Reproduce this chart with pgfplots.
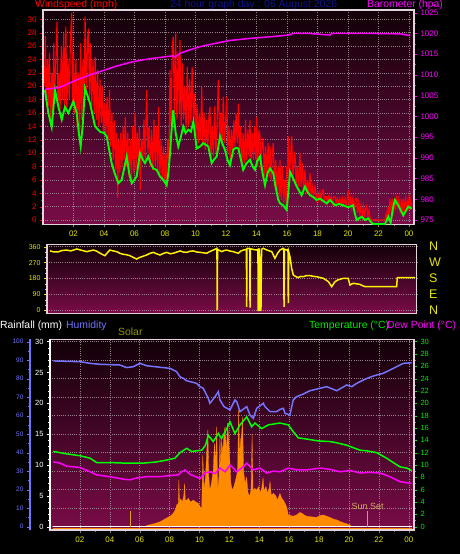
\documentclass[border=0pt]{standalone}
\usepackage{pgfplots}
\pgfplotsset{compat=1.18}
\usepackage{fontspec}
\setmainfont{Liberation Sans}
\definecolor{bgtop}{RGB}{18,0,8}
\definecolor{bgbot}{RGB}{122,12,72}
\definecolor{gridc}{RGB}{150,128,140}
\definecolor{ylab}{RGB}{228,228,0}
\definecolor{humblue}{RGB}{116,116,255}
\definecolor{solarc}{RGB}{255,140,0}
\definecolor{suncol}{RGB}{212,172,100}
\definecolor{sunline}{RGB}{225,160,30}
\definecolor{titleblue}{RGB}{18,18,145}
\definecolor{framec}{RGB}{228,210,220}
\definecolor{solarlab}{RGB}{150,150,0}
\definecolor{tempgreen}{RGB}{0,235,0}
\definecolor{mag}{RGB}{255,0,255}
\begin{document}
\begin{tikzpicture}
\fill[black] (0pt,0pt) rectangle (460pt,554pt);
\pgfplotsset{
  every axis/.append style={scale only axis, anchor=south west,
    /pgf/number format/assume math mode=true,
    tick align=outside, major tick length=3pt, minor tick length=1.8pt,
    tick label style={font=\fontsize{8}{9}\selectfont},
    grid style={gridc, dash pattern=on 0.8pt off 1.4pt, line width=0.5pt}},
}
% ================= TOP PANEL: wind speed =================
\begin{axis}[
  at={(43pt,329.5pt)}, width=371pt, height=214.5pt,
  xmin=0, xmax=24.33, ymin=-0.67, ymax=31.39,
  axis background/.style={shade, top color=bgtop, bottom color=bgbot},
  axis line style={framec, line width=1.2pt},
  xtick={2,4,...,24}, xticklabels={02,04,06,08,10,12,14,16,18,20,22,00},
  minor x tick num=1,
  ytick={0,2,...,30}, minor y tick num=1,
  grid=major,
  xtick pos=left, ytick pos=left,
  xticklabel style={ylab}, yticklabel style={red},
  x tick style={gray}, y tick style={red},
]
\addplot[red, line width=1.15pt] coordinates {
(0.10,20)(0.15,27.5)(0.22,18)(0.30,24)(0.36,17)(0.42,25)(0.50,15)(0.58,22)(0.64,14.5)(0.70,26.4)
(0.76,18)(0.84,24)(0.92,29.6)(0.98,17)(1.05,22)(1.12,16.5)(1.20,26)(1.28,18)(1.36,27.9)(1.42,17)
(1.50,28.9)(1.56,16.5)(1.64,24)(1.72,18)(1.80,27)(1.88,31)(1.94,17)(2.00,25)(2.08,16)(2.16,24)
(2.24,14)(2.32,22)(2.40,12.5)(2.46,26.4)(2.54,15)(2.62,24)(2.70,19)(2.76,30.4)(2.84,19)(2.92,27)
(2.98,28.6)(3.05,18)(3.12,26.4)(3.20,17)(3.28,24)(3.36,16)(3.42,24.4)(3.50,15)(3.58,22.4)(3.66,14)
(3.74,21)(3.82,14.5)(3.88,19.9)(3.96,13)(4.04,17.5)(4.12,12.5)(4.20,18.4)(4.28,12)(4.36,19.4)(4.44,11)
(4.52,16)(4.60,9)(4.68,14.9)(4.76,7.5)(4.84,13)(4.90,3.3)(4.96,12)(5.04,7)(5.10,13)(5.18,8)
(5.26,14)(5.32,9)(5.40,15.4)(5.48,8)(5.56,13)(5.64,6.5)(5.72,12)(5.80,6)(5.88,14)(5.96,7)
(6.04,16)(6.10,7.5)(6.18,13)(6.26,8)(6.32,14)(6.38,4.5)(6.46,12)(6.54,9)(6.62,15)(6.70,9)
(6.80,19.4)(6.88,10)(6.96,14)(7.04,8)(7.12,13.5)(7.20,7.5)(7.28,15)(7.36,8)(7.44,14)(7.52,7)
(7.58,16.9)(7.66,6.5)(7.74,12)(7.82,6)(7.90,11)(7.96,5.5)(8.04,10)(8.10,6)(8.18,12)(8.26,9)
(8.33,22.4)(8.40,14)(8.48,26)(8.54,27.4)(8.62,16)(8.70,27.9)(8.78,15)(8.86,24.9)(8.94,16)(8.98,26.9)
(9.06,14)(9.14,23.4)(9.22,15)(9.30,20)(9.38,13.5)(9.46,22.9)(9.54,14)(9.62,21)(9.70,14.5)(9.78,22.9)
(9.86,15)(9.94,18.9)(10.02,12)(10.10,17.4)(10.18,11.5)(10.26,16)(10.34,12)(10.41,19.9)(10.48,11)(10.56,16)
(10.64,10.5)(10.72,15)(10.80,11)(10.88,15.5)(10.95,16.9)(11.02,9)(11.10,14)(11.18,9.5)(11.26,17)(11.34,10)
(11.42,15)(11.50,20.9)(11.58,12)(11.66,16)(11.74,11)(11.82,18.4)(11.90,11.5)(11.98,15)(12.05,18.4)(12.12,10)
(12.20,14)(12.28,9)(12.36,13.5)(12.44,10)(12.52,14.9)(12.59,11)(12.66,16)(12.74,11.5)(12.81,17.4)(12.88,10)
(12.96,14)(13.04,8)(13.12,13)(13.20,8.5)(13.28,15)(13.36,9)(13.44,13.5)(13.52,9.5)(13.57,14.9)(13.64,8.5)
(13.72,13)(13.80,9)(13.88,14)(13.96,9)(14.01,15.4)(14.08,8)(14.16,13.5)(14.23,12.5)(14.30,7.5)(14.38,12)
(14.45,11.5)(14.52,6.5)(14.60,11)(14.68,7)(14.76,11.5)(14.84,6.5)(14.89,11)(14.96,6)(15.04,10)(15.10,11.5)
(15.18,5)(15.26,9)(15.34,4.5)(15.42,8)(15.50,3.5)(15.54,9)(15.62,3)(15.70,8)(15.78,2.5)(15.86,6)
(15.94,2)(15.98,8)(16.04,7)(16.09,12.5)(16.16,6)(16.24,10)(16.31,12.5)(16.38,6)(16.46,9)(16.52,10.2)
(16.60,5.5)(16.68,8)(16.76,5)(16.85,10)(16.92,5)(17.00,8.5)(17.08,4.5)(17.18,7.5)(17.26,4)(17.34,6)
(17.42,4)(17.51,7)(17.58,3.5)(17.66,5)(17.74,3.5)(17.84,5)(17.92,3)(18.00,4)(18.08,3)(18.16,4.2)
(18.24,3)(18.32,4.5)(18.40,4.5)(18.44,2.8)(18.52,3.5)(18.60,3.5)(18.66,2.5)(18.74,3.5)(18.82,2.8)(18.90,3.5)
(18.98,2.5)(19.06,3.5)(19.15,3.5)(19.22,2.5)(19.30,3.3)(19.40,2.4)(19.48,3.2)(19.56,2.2)(19.64,3.2)(19.72,2.3)
(19.80,3.2)(19.88,2.2)(19.96,3.2)(20.02,4.5)(20.08,2.2)(20.16,3.2)(20.24,1.8)(20.32,3.2)(20.40,1.5)(20.48,3.2)
(20.57,3.2)(20.62,1)(20.70,2.5)(20.78,0.8)(20.86,2.2)(20.94,0.5)(21.02,2)(21.10,0.5)(21.18,2)(21.23,2.2)
(21.30,0.5)(21.38,1.5)(21.46,0.2)(21.55,0)(22.43,0)(22.50,1)(22.56,0)(22.64,2)(22.70,0.5)(22.75,3.2)
(22.82,1.5)(22.90,3.2)(22.98,1)(23.06,3.2)(23.12,1.5)(23.19,3.2)(23.26,2)(23.34,3.2)(23.42,1)(23.50,3.2)
(23.56,0.8)(23.63,3.2)(23.70,1.5)(23.78,3.2)(23.86,1.8)(23.94,3.2)(24.00,1.5)(24.07,3.2)(24.14,2)(24.18,2.5)
};
\addplot[green, line width=1.9pt] coordinates {
(0.13,19.4)(0.35,16)(0.57,13.9)(0.79,19.4)(1.0,17)(1.23,15)(1.44,16.9)(1.66,16)(1.99,17.7)(2.21,16)
(2.35,13)(2.47,11)(2.6,14)(2.75,19.7)(3.08,17.5)(3.41,14)(3.74,13.2)(4.0,13)(4.18,12.5)(4.5,8.5)
(4.7,7)(4.94,5.5)(5.16,6)(5.35,8)(5.49,9.5)(5.65,7)(5.82,5.5)(6.14,6.5)(6.36,10)(6.55,9)
(6.69,8.5)(6.9,9.5)(7.05,8.5)(7.23,7.7)(7.45,7.5)(7.67,6.5)(7.89,6)(8.11,5.2)(8.22,7)(8.33,10)
(8.45,14)(8.54,16.4)(8.7,13)(8.87,11)(9.05,12.5)(9.2,14)(9.35,13)(9.53,13.5)(9.7,13.2)(9.86,14.7)
(10.08,10.7)(10.3,11)(10.51,11.5)(10.7,11.2)(10.84,11)(11.06,8.5)(11.2,9)(11.39,9.5)(11.61,12.5)(11.75,11.5)
(11.93,10.5)(12.1,9)(12.26,8.2)(12.48,10.5)(12.65,10.8)(12.81,10.7)(13.13,7.5)(13.35,8.5)(13.57,9)(13.75,8)
(13.9,7.5)(14.05,8.8)(14.23,9.5)(14.4,7)(14.56,5.2)(14.72,7)(14.89,7.7)(15.1,7)(15.25,5)(15.43,3)
(15.54,2.5)(15.75,2.2)(15.98,1.5)(16.1,4.5)(16.2,7.2)(16.45,6)(16.64,5)(16.96,3.7)(17.18,5)(17.35,4.2)
(17.51,3.7)(17.75,3.4)(17.95,3)(18.16,3.2)(18.4,2.8)(18.6,2.5)(18.82,3)(19.15,2.2)(19.4,2.4)(19.69,2.2)
(20.02,1.9)(20.33,2.2)(20.45,1)(20.57,0)(20.9,0.5)(21.11,0)(21.33,0.25)(21.5,-0.3)(21.66,-0.6)(22.43,-0.6)
(22.64,0.5)(22.8,-0.4)(22.95,1.8)(23.08,3)(23.3,2.2)(23.63,0.7)(23.95,2)(24.18,1.7)
};
\end{axis}
\begin{axis}[
  at={(43pt,329.5pt)}, width=371pt, height=214.5pt,
  xmin=0, xmax=24.33, ymin=973.91, ymax=1025.65,
  axis x line=none, axis y line*=right,
  axis line style={framec, line width=1.2pt},
  ytick={975,980,...,1025}, minor y tick num=1,
  yticklabel style={mag, /pgf/number format/1000 sep={}},
  y tick style={mag},
]
\addplot[mag, line width=1.5pt] coordinates {
(0.13,1006.5)(1.11,1007)(2.21,1008.8)(3.0,1009.9)(3.74,1010.8)(4.8,1012.1)(5.92,1013.2)(7.0,1013.9)(8.11,1014.4)(8.54,1014.6)
(8.66,1014.3)(8.98,1015.2)(9.6,1016.0)(10.3,1016.8)(11.3,1017.6)(12.26,1018.3)(13.57,1018.8)(14.89,1019.2)(16.09,1019.6)(16.41,1020)
(17.5,1020)(18.16,1019.8)(18.82,1019.6)(18.93,1020)(21.66,1020)(23.41,1019.9)(24.07,1019.5)
};
\end{axis}
% titles top
\node[anchor=west, text=red, font=\fontsize{10.4}{12}\selectfont, inner sep=0pt] at (35pt,549pt) {Windspeed (mph)};
\node[anchor=west, text=titleblue, font=\fontsize{10.4}{12}\selectfont, inner sep=0pt] at (170pt,549pt) {24 hour graph day : 06 August 2026};
\node[anchor=west, text=mag, font=\fontsize{10.4}{12}\selectfont, inner sep=0pt] at (367pt,549.5pt) {Barometer (hpa)};
% ================= MIDDLE PANEL: wind direction =================
\begin{axis}[
  at={(47pt,240.7pt)}, width=369.7pt, height=69pt,
  xmin=-0.066, xmax=24.29, ymin=-17, ymax=373.6,
  axis background/.style={shade, top color=bgtop, bottom color=bgbot},
  axis line style={framec, line width=1.2pt},
  xtick=\empty, ytick={0,90,180,270,360}, minor y tick num=2,
  ytick pos=left, ymajorgrids,
  yticklabel style={ylab, font=\fontsize{7}{8}\selectfont},
  y tick style={ylab},
]
\addplot[yellow, line width=1.5pt] coordinates {
(0.13,336)(0.4,330)(0.66,330)(0.9,338)(1.23,341)(1.5,336)(1.89,347)(2.2,340)(2.55,332)(2.98,341)
(3.2,335)(3.43,323)(3.75,309)(3.9,325)(4.08,341)(4.3,336)(4.53,332)(4.75,322)(4.96,317)(5.2,314)
(5.4,309)(5.6,300)(5.84,290)(6.0,298)(6.17,303)(6.5,313)(6.7,322)(6.94,328)(7.15,320)(7.38,313)
(7.6,322)(7.82,328)(8.05,320)(8.25,323)(8.5,330)(8.7,336)(8.9,330)(9.14,328)(9.35,334)(9.57,336)
(9.8,330)(10.01,328)(10.2,326)(10.45,323)(10.7,334)(10.89,341)(11.13,351)(11.15,0)(11.17,345)(11.44,332)
(11.6,338)(11.77,341)(12.0,335)(12.21,332)(12.4,326)(12.54,323)(12.7,335)(12.87,341)(13.07,345)(13.09,20)
(13.11,350)(13.2,351)(13.29,350)(13.31,15)(13.33,348)(13.55,344)(13.75,341)(13.83,345)(13.85,0)(13.9,0)
(13.93,350)(13.97,0)(14.03,0)(14.07,345)(14.18,351)(14.45,340)(14.74,332)(14.95,294)(15.1,320)(15.28,341)
(15.5,351)(15.53,350)(15.55,20)(15.58,345)(15.72,341)(15.81,345)(15.83,40)(15.86,330)(15.95,300)(16.05,238)
(16.16,200)(16.3,192)(16.49,185)(16.65,192)(16.82,190)(17.0,196)(17.26,196)(17.5,192)(17.7,190)(17.9,186)
(18.14,181)(18.3,172)(18.47,162)(18.69,134)(18.91,162)(19.1,172)(19.45,181)(19.78,181)(19.89,143)(20.11,153)
(20.3,150)(20.55,147)(20.7,140)(20.88,134)(22.97,134)(23.01,185)(24.18,185)
};
\end{axis}
\begin{axis}[
  at={(47pt,240.7pt)}, width=369.7pt, height=69pt,
  xmin=-0.066, xmax=24.29, ymin=-17, ymax=373.6,
  axis x line=none, axis y line*=right,
  axis line style={framec, line width=0.8pt},
  ytick={0,90,180,270,360}, yticklabels={N,E,S,W,N},
  major tick length=0pt,
  yticklabel style={ylab, font=\fontsize{12.5}{13}\selectfont, xshift=9pt},
]
\end{axis}
% ================= BOTTOM PANEL =================
\begin{axis}[
  at={(50pt,24pt)}, width=364pt, height=190.7pt,
  xmin=0, xmax=24.35, ymin=-0.535, ymax=30.37,
  axis background/.style={shade, top color=bgtop, bottom color=bgbot},
  axis line style={framec, line width=1.2pt},
  xtick={2,4,...,24}, xticklabels={02,04,06,08,10,12,14,16,18,20,22,00},
  minor x tick num=1, xtick pos=left,
  ytick={0,3,...,30}, yticklabels={}, y tick style={draw=none},
  grid=major,
  xticklabel style={ylab}, x tick style={gray},
]
\addplot[solarc, line width=1.6pt] coordinates {(0.2,-0.3)(24.2,-0.3)};
\addplot[fill=solarc, draw=solarc, line width=0.3pt] coordinates {
(6.40,0)(6.47,0.2)(7.0,0.5)(7.36,0.8)(7.81,1.4)(8.10,1.8)(8.25,2.2)(8.40,2.8)(8.47,3.5)(8.58,3.8)
(8.62,7.6)(8.66,4.0)(8.75,4.5)(8.85,4.0)(8.95,5)(9.00,7)(9.05,4.3)(9.14,4.3)(9.25,4.6)(9.40,4.0)
(9.59,4.3)(9.75,4.0)(9.92,3.8)(10.05,3.2)(10.15,3.0)(10.22,11.6)(10.30,6)(10.40,8)(10.48,11.9)(10.56,15.7)
(10.62,8)(10.70,5.9)(10.80,7)(10.92,9.2)(11.00,13.5)(11.08,10)(11.15,16.2)(11.22,5.9)(11.30,8)(11.37,14.6)
(11.42,9)(11.48,14.0)(11.56,12)(11.64,15)(11.71,16.2)(11.80,12)(11.88,16.8)(11.95,14)(12.04,10.3)(12.10,7)
(12.20,5.9)(12.30,6.5)(12.42,7.6)(12.55,9)(12.62,18.9)(12.68,11)(12.75,14)(12.82,15)(12.88,17.8)(12.95,9)
(13.05,7)(13.15,8)(13.25,5.5)(13.35,4.9)(13.45,6)(13.52,15.1)(13.58,5.9)(13.70,6.2)(13.82,5.9)(13.95,6.5)
(14.05,5.5)(14.16,6.2)(14.25,7.9)(14.32,5.8)(14.45,6.5)(14.55,5.4)(14.66,6.2)(14.72,7.3)(14.80,5.1)(14.95,5.4)
(15.10,5.0)(15.22,4.3)(15.38,5.4)(15.5,4.6)(15.61,4.3)(15.72,3.8)(15.83,3.2)(15.94,1.9)(16.1,1.8)(16.27,1.7)
(16.5,1.9)(16.7,2.3)(16.84,2.2)(17.0,1.9)(17.17,1.7)(17.5,1.6)(17.84,1.5)(18.05,1.8)(18.28,1.9)(18.5,1.7)
(18.73,1.5)(19.0,1.2)(19.18,1.1)(19.45,0.8)(19.73,0.55)(20.07,0.3)(20.18,0)
} \closedcycle;
\addplot[white, line width=1.6pt] coordinates {(0.2,0)(24.2,0)};
\addplot[sunline, line width=1.3pt] coordinates {(5.4,0)(5.4,2.55)};
\addplot[sunline, line width=1.3pt] coordinates {(21.25,0)(21.25,2.55)};
\node[text=suncol, font=\fontsize{9}{10}\selectfont, inner sep=0pt] at (axis cs:21.25,3.3) {Sun Set};
\addplot[green, line width=1.5pt] coordinates {
(0.22,12.2)(1.12,11.8)(2.01,11.5)(2.68,11.1)(3.12,10.4)(4.01,10.4)(5.02,10.3)(6.24,10.3)(7.14,10.5)(7.81,10.8)
(8.36,11.1)(8.7,12.0)(9.14,12.7)(9.48,12.2)(10.15,12.4)(10.4,13.2)(10.59,14.8)(10.92,13.8)(11.26,15.1)(11.48,14.3)
(11.8,15.8)(12.04,17.0)(12.37,15.1)(12.71,16.5)(13.16,17.8)(13.49,16.2)(13.71,16.8)(14.16,15.9)(14.6,16.5)(15.38,16.8)
(15.94,16.5)(16.27,15.4)(16.61,14.4)(17.17,14.2)(17.95,13.9)(18.73,13.8)(19.18,13.6)(19.85,13.2)(20.74,12.4)(21.18,12.3)
(21.85,12.0)(22.52,11.1)(22.96,10.4)(23.41,9.7)(23.86,9.5)(24.19,9.1)
};
\addplot[mag, line width=1.5pt] coordinates {
(0.22,10.5)(0.67,10.3)(1.12,9.8)(2.01,9.6)(2.68,8.9)(3.12,8.4)(4.01,8.1)(4.9,7.7)(5.35,7.6)(5.8,7.9)
(6.47,8.1)(7.36,8.1)(8.03,8.3)(8.58,8.4)(8.81,8.9)(9.03,9.2)(9.36,8.5)(10.03,7.8)(10.37,8.7)(10.7,8.9)
(11.04,8.6)(11.37,9.5)(11.71,8.9)(12.04,10.0)(12.49,8.9)(12.93,9.7)(13.16,10.3)(13.6,9.2)(14.05,9.5)(14.49,8.7)
(14.94,9.0)(15.38,8.9)(15.94,9.5)(16.5,9.2)(17.17,9.2)(18.06,9.5)(18.73,9.3)(19.4,8.9)(20.07,9.1)(20.74,8.7)
(21.4,8.8)(22.07,8.7)(22.74,8.1)(23.41,7.3)(24.19,7.0)
};
\end{axis}
\begin{axis}[
  at={(50pt,24pt)}, width=364pt, height=190.7pt,
  xmin=0, xmax=24.35, ymin=-1.78, ymax=101.3, hide axis,
]
\addplot[humblue, line width=1.5pt] coordinates {
(0.22,89.6)(2.01,89.2)(2.68,88.3)(3.34,87.8)(4.68,87.4)(5.13,86)(5.57,86.5)(6.02,88.3)(6.47,87)(7.36,86.2)
(8.03,85.6)(8.47,83.8)(8.7,81)(8.92,80.2)(9.14,78.9)(9.81,77.5)(10.03,75.7)(10.25,74.8)(10.59,69.4)(10.7,66.7)
(11.04,70.3)(11.26,73)(11.37,68.5)(11.64,64.9)(12.04,63.1)(12.37,68.5)(12.49,67.6)(12.71,62.2)(13.16,64.9)(13.38,60.4)
(13.6,58.6)(13.83,64)(14.27,66.7)(14.38,64.9)(14.72,62.2)(15.16,62.2)(15.38,63.4)(15.61,64)(15.72,61.3)(16.05,60.4)
(16.27,68.5)(16.5,70.3)(16.94,71.7)(17.39,73.5)(18.06,74.8)(18.51,75.7)(19.18,73.5)(19.85,76.6)(20.18,75.7)(20.52,77.5)
(20.96,79.3)(21.4,80.8)(21.85,82)(22.29,82.9)(22.74,84.7)(23.19,86.5)(23.63,88.3)(24.19,88.6)
};
\end{axis}
% rainfall labels (left)
\begin{axis}[
  at={(50pt,24pt)}, width=364pt, height=190.7pt,
  xmin=0, xmax=24.35, ymin=-0.535, ymax=30.37,
  axis x line=none, axis y line*=left,
  axis line style={white, line width=1.4pt},
  ytick={0,5,...,30}, minor y tick num=4,
  yticklabel style={white, font=\fontsize{7.5}{9}\selectfont}, y tick style={white},
]
\end{axis}
% temperature labels (right)
\begin{axis}[
  at={(50pt,24pt)}, width=364pt, height=190.7pt,
  xmin=0, xmax=24.35, ymin=-0.535, ymax=30.37,
  axis x line=none, axis y line*=right,
  axis line style={framec, line width=1.2pt},
  ytick={0,2,...,30}, minor y tick num=1,
  yticklabel style={tempgreen, font=\fontsize{7.5}{9}\selectfont}, y tick style={tempgreen},
]
\end{axis}
% humidity labels (far left)
\begin{axis}[
  at={(30pt,24pt)}, width=20pt, height=190.7pt,
  xmin=0, xmax=1, ymin=-1.78, ymax=101.3,
  axis x line=none, axis y line*=left,
  axis line style={humblue, line width=1.6pt},
  ytick={0,10,...,100}, minor y tick num=1,
  yticklabel style={humblue, font=\fontsize{6.5}{8}\selectfont}, y tick style={humblue},
]
\end{axis}
% bottom titles
\node[anchor=west, text=white, font=\fontsize{10.4}{12}\selectfont, inner sep=0pt] at (0pt,228pt) {Rainfall (mm)};
\node[anchor=west, text=humblue, font=\fontsize{10.4}{12}\selectfont, inner sep=0pt] at (66pt,228pt) {Humidity};
\node[anchor=west, text=solarlab, font=\fontsize{10.4}{12}\selectfont, inner sep=0pt] at (118pt,222pt) {Solar};
\node[anchor=west, text=tempgreen, font=\fontsize{10.4}{12}\selectfont, inner sep=0pt] at (309pt,228pt) {Temperature (°C)};
\node[anchor=west, text=mag, font=\fontsize{10.4}{12}\selectfont, inner sep=0pt] at (387pt,228pt) {Dew Point (°C)};
\pgfresetboundingbox
\path[use as bounding box] (0pt,0pt) rectangle (460pt,554pt);
\end{tikzpicture}
\end{document}
